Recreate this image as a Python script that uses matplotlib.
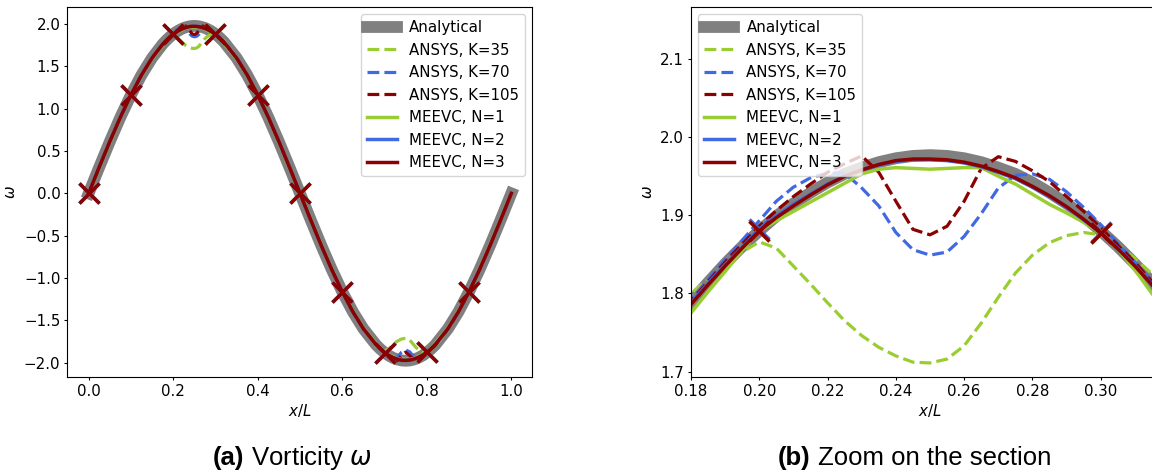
import numpy as np
import matplotlib
matplotlib.use("Agg")
import matplotlib.pyplot as plt
from matplotlib.offsetbox import TextArea, HPacker, AnnotationBbox

# ---------------------------------------------------------------------------
# Sample positions along the domain (x/L); finer sampling around the extrema
# ---------------------------------------------------------------------------
x_grid = np.concatenate([
    np.linspace(0.0, 0.175, 8),
    np.linspace(0.18, 0.32, 29),
    np.linspace(0.35, 0.65, 13),
    np.linspace(0.68, 0.82, 15),
    np.linspace(0.85, 1.0, 7),
])

# Element edges where the MEEVC solutions carry a marker
element_edges = [0.0, 0.1, 0.2, 0.3, 0.4, 0.5, 0.6, 0.7, 0.8, 0.9]

analytical = (
    [0.000, 0.309, 0.611, 0.898, 1.162, 1.398, 1.599, 1.762]
    + [1.789, 1.814, 1.838, 1.860, 1.880, 1.899, 1.915, 1.929, 1.942, 1.953,
       1.961, 1.968, 1.973, 1.976, 1.977, 1.976, 1.973, 1.968, 1.961, 1.953,
       1.942, 1.929, 1.915, 1.899, 1.880, 1.860, 1.838, 1.814, 1.789]
    + [1.599, 1.398, 1.162, 0.898, 0.611, 0.309, 0.000, -0.309, -0.611,
       -0.898, -1.162, -1.398, -1.599]
    + [-1.789, -1.838, -1.880, -1.915, -1.942, -1.961, -1.973, -1.977,
       -1.973, -1.961, -1.942, -1.915, -1.880, -1.838, -1.789]
    + [-1.599, -1.398, -1.162, -0.898, -0.611, -0.309, 0.000]
)

ansys_k35 = (
    [0.000, 0.309, 0.611, 0.898, 1.162, 1.398, 1.601, 1.766]
    + [1.800, 1.818, 1.836, 1.853, 1.866, 1.858, 1.835, 1.812, 1.788, 1.765,
       1.746, 1.731, 1.720, 1.712, 1.711, 1.716, 1.733, 1.762, 1.795, 1.826,
       1.849, 1.865, 1.874, 1.878, 1.875, 1.862, 1.845, 1.825, 1.805]
    + [1.606, 1.400, 1.162, 0.898, 0.611, 0.309, 0.000, -0.309, -0.611,
       -0.898, -1.162, -1.398, -1.601]
    + [-1.800, -1.836, -1.866, -1.835, -1.788, -1.746, -1.720, -1.711,
       -1.733, -1.795, -1.849, -1.874, -1.875, -1.845, -1.805]
    + [-1.606, -1.400, -1.162, -0.898, -0.611, -0.309, 0.000]
)

ansys_k70 = (
    [0.000, 0.309, 0.611, 0.898, 1.162, 1.398, 1.600, 1.764]
    + [1.792, 1.818, 1.843, 1.868, 1.893, 1.918, 1.936, 1.948, 1.954, 1.954,
       1.935, 1.912, 1.878, 1.856, 1.849, 1.853, 1.873, 1.902, 1.935, 1.951,
       1.953, 1.946, 1.930, 1.910, 1.888, 1.864, 1.840, 1.816, 1.790]
    + [1.600, 1.398, 1.162, 0.898, 0.611, 0.309, 0.000, -0.309, -0.611,
       -0.898, -1.162, -1.398, -1.600]
    + [-1.792, -1.843, -1.893, -1.936, -1.954, -1.935, -1.878, -1.849,
       -1.873, -1.935, -1.953, -1.930, -1.888, -1.840, -1.790]
    + [-1.600, -1.398, -1.162, -0.898, -0.611, -0.309, 0.000]
)

ansys_k105 = (
    [0.000, 0.309, 0.611, 0.898, 1.162, 1.398, 1.599, 1.763]
    + [1.790, 1.815, 1.840, 1.863, 1.886, 1.906, 1.924, 1.940, 1.955, 1.966,
       1.976, 1.955, 1.918, 1.882, 1.875, 1.886, 1.918, 1.960, 1.975, 1.969,
       1.957, 1.943, 1.924, 1.905, 1.884, 1.862, 1.840, 1.815, 1.790]
    + [1.599, 1.398, 1.162, 0.898, 0.611, 0.309, 0.000, -0.309, -0.611,
       -0.898, -1.162, -1.398, -1.599]
    + [-1.790, -1.840, -1.886, -1.924, -1.955, -1.976, -1.918, -1.875,
       -1.918, -1.975, -1.957, -1.924, -1.884, -1.840, -1.790]
    + [-1.599, -1.398, -1.162, -0.898, -0.611, -0.309, 0.000]
)

meevc_n1 = (
    [0.000, 0.300, 0.600, 0.890, 1.160, 1.390, 1.590, 1.748]
    + [1.775, 1.802, 1.828, 1.855, 1.880, 1.893, 1.905, 1.917, 1.929, 1.941,
       1.953, 1.959, 1.961, 1.960, 1.959, 1.960, 1.961, 1.961, 1.950, 1.940,
       1.927, 1.914, 1.903, 1.891, 1.877, 1.857, 1.830, 1.800, 1.772]
    + [1.590, 1.390, 1.160, 0.890, 0.600, 0.300, 0.000, -0.300, -0.600,
       -0.890, -1.160, -1.390, -1.590]
    + [-1.775, -1.828, -1.880, -1.905, -1.929, -1.953, -1.961, -1.959,
       -1.961, -1.950, -1.927, -1.903, -1.877, -1.830, -1.772]
    + [-1.590, -1.390, -1.160, -0.890, -0.600, -0.300, 0.000]
)

meevc_n2 = (
    [0.000, 0.308, 0.610, 0.897, 1.161, 1.397, 1.598, 1.761]
    + [1.788, 1.813, 1.837, 1.859, 1.882, 1.899, 1.914, 1.927, 1.940, 1.950,
       1.958, 1.964, 1.969, 1.971, 1.971, 1.970, 1.967, 1.962, 1.955, 1.947,
       1.936, 1.924, 1.910, 1.894, 1.878, 1.858, 1.836, 1.812, 1.787]
    + [1.598, 1.397, 1.161, 0.897, 0.610, 0.308, 0.000, -0.308, -0.610,
       -0.897, -1.161, -1.397, -1.598]
    + [-1.788, -1.837, -1.882, -1.914, -1.940, -1.958, -1.969, -1.971,
       -1.967, -1.955, -1.936, -1.910, -1.878, -1.836, -1.787]
    + [-1.598, -1.397, -1.161, -0.897, -0.610, -0.308, 0.000]
)

meevc_n3 = (
    [0.000, 0.309, 0.611, 0.898, 1.162, 1.397, 1.598, 1.760]
    + [1.786, 1.811, 1.835, 1.858, 1.880, 1.897, 1.912, 1.926, 1.939, 1.950,
       1.958, 1.965, 1.970, 1.972, 1.972, 1.971, 1.968, 1.963, 1.956, 1.948,
       1.937, 1.925, 1.911, 1.895, 1.877, 1.857, 1.835, 1.811, 1.786]
    + [1.598, 1.397, 1.162, 0.898, 0.611, 0.309, 0.000, -0.309, -0.611,
       -0.898, -1.162, -1.397, -1.598]
    + [-1.786, -1.835, -1.880, -1.912, -1.939, -1.958, -1.970, -1.972,
       -1.968, -1.956, -1.937, -1.911, -1.877, -1.835, -1.786]
    + [-1.598, -1.397, -1.162, -0.898, -0.611, -0.309, 0.000]
)

GREEN = "yellowgreen"
BLUE = "royalblue"
RED = "darkred"
GRAY = "gray"
FS = 10.8

plt.rcParams["font.family"] = ["DejaVu Sans"]
plt.rcParams["font.size"] = FS
for axis in ("xtick", "ytick"):
    plt.rcParams[f"{axis}.major.size"] = 2.5
    plt.rcParams[f"{axis}.major.pad"] = 2.5

marker_idx = [int(np.argmin(np.abs(x_grid - e))) for e in element_edges]


def draw_panel(ax):
    ax.plot(x_grid, analytical, color=GRAY, lw=8.5, label="Analytical")
    ax.plot(x_grid, ansys_k35, "--", color=GREEN, lw=2.3, label="ANSYS, K=35")
    ax.plot(x_grid, ansys_k70, "--", color=BLUE, lw=2.3, label="ANSYS, K=70")
    ax.plot(x_grid, ansys_k105, "--", color=RED, lw=2.3, label="ANSYS, K=105")
    for vals, col, lab in [(meevc_n1, GREEN, "MEEVC, N=1"),
                           (meevc_n2, BLUE, "MEEVC, N=2"),
                           (meevc_n3, RED, "MEEVC, N=3")]:
        ax.plot(x_grid, vals, "-", color=col, lw=2.5, label=lab)
        ax.plot(x_grid[marker_idx], np.asarray(vals)[marker_idx], "x",
                color=col, ms=14, mew=2.5, ls="none")
    ax.set_xlabel("$x/L$", fontsize=FS, labelpad=2)
    ax.set_ylabel(r"$\omega$", fontsize=FS)
    ax.tick_params(labelsize=FS)


fig = plt.figure(figsize=(11.52, 4.75), dpi=100)

ax1 = fig.add_axes([0.0584, 0.2057, 0.4037, 0.7802])
draw_panel(ax1)
ax1.set_xlim(-0.0506, 1.0497)
ax1.set_ylim(-2.172, 2.204)
ax1.set_xticks([0.0, 0.2, 0.4, 0.6, 0.8, 1.0])
ax1.set_yticks([-2.0, -1.5, -1.0, -0.5, 0.0, 0.5, 1.0, 1.5, 2.0])
ax1.legend(loc="upper right", fontsize=FS)

ax2 = fig.add_axes([0.5998, 0.2063, 0.4150, 0.7796])
draw_panel(ax2)
ax2.set_xlim(0.18, 0.32)
ax2.set_ylim(1.693, 2.167)
ax2.set_xticks([0.18, 0.20, 0.22, 0.24, 0.26, 0.28, 0.30])
ax2.set_xticklabels(["0.18", "0.20", "0.22", "0.24", "0.26", "0.28", "0.30"])
ax2.set_yticks([1.7, 1.8, 1.9, 2.0, 2.1])
ax2.legend(loc="upper left", fontsize=FS)


def caption(xc, yc, tag, text):
    props = dict(fontsize=18.5, family="Liberation Sans")
    a = TextArea(tag, textprops=dict(props, fontweight="bold"))
    b = TextArea(text, textprops=props)
    box = HPacker(children=[a, b], align="baseline", pad=0, sep=5)
    ab = AnnotationBbox(box, (xc, yc), xycoords="figure fraction",
                        frameon=False, box_alignment=(0.5, 0.5))
    fig.add_artist(ab)


caption(0.2535, 0.036, "(a)", r"Vorticity $\omega$")
caption(0.794, 0.036, "(b)", "Zoom on the section")

fig.savefig("out.png", dpi=100)
